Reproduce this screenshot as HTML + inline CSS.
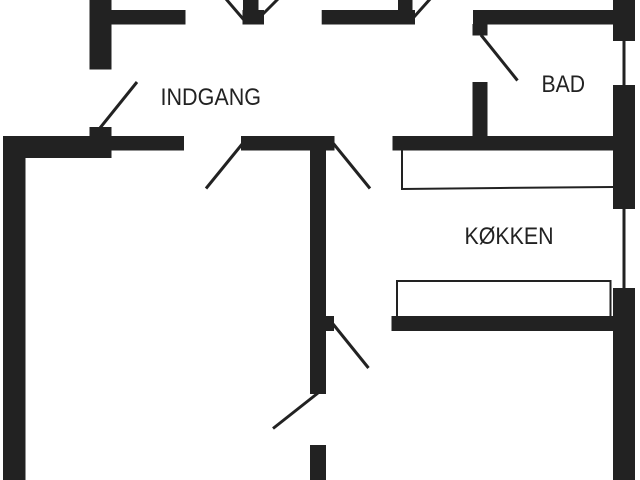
<!DOCTYPE html>
<html>
<head>
<meta charset="utf-8">
<style>
html,body{margin:0;padding:0;background:#fff;width:640px;height:480px;overflow:hidden}
svg{display:block}
text{font-family:"Liberation Sans",sans-serif;fill:#222;font-size:24px}
</style>
</head>
<body>
<svg width="640" height="480" viewBox="0 0 640 480" xmlns="http://www.w3.org/2000/svg">
<rect width="640" height="480" fill="#fff"/>
<g fill="#222">
  <!-- top left -->
  <rect x="89.5" y="0" width="22" height="69.5"/>
  <rect x="111" y="10" width="74.5" height="14.5"/>
  <!-- top centre -->
  <rect x="243" y="0" width="15.5" height="11"/>
  <rect x="242.5" y="10" width="21.5" height="14.5"/>
  <!-- top mid -->
  <rect x="321.7" y="10" width="93.3" height="14.5"/>
  <rect x="398" y="0" width="14.5" height="11"/>
  <!-- bad -->
  <rect x="473" y="10" width="141" height="14.5"/>
  <rect x="472.5" y="24" width="15" height="11.5"/>
  <rect x="472.5" y="82" width="15" height="55"/>
  <rect x="392.5" y="136" width="221" height="14.5"/>
  <!-- right wall -->
  <rect x="613" y="0" width="22" height="41"/>
  <rect x="622.5" y="41" width="3" height="45"/>
  <rect x="613" y="85" width="22" height="124"/>
  <rect x="622.5" y="208" width="3" height="81"/>
  <rect x="613" y="288" width="22" height="192"/>
  <!-- left room -->
  <rect x="3" y="136" width="181" height="14.5"/>
  <rect x="3" y="136" width="108" height="22"/>
  <rect x="3" y="136" width="22.5" height="344"/>
  <rect x="89.5" y="127" width="22" height="31"/>
  <!-- centre wall -->
  <rect x="241" y="136" width="93.5" height="14.5"/>
  <rect x="310" y="136" width="16" height="258"/>
  <rect x="326" y="316" width="8" height="15"/>
  <rect x="310" y="445" width="16" height="35"/>
  <!-- kitchen lower wall -->
  <rect x="391.5" y="316" width="222" height="15"/>
</g>
<g stroke="#222" fill="none" stroke-width="3">
  <line x1="226" y1="-1" x2="244" y2="20"/>
  <line x1="278" y1="-1" x2="262" y2="15"/>
  <line x1="431" y1="-2" x2="414" y2="17"/>
  <line x1="137" y1="82" x2="100" y2="128"/>
  <line x1="206" y1="188.5" x2="243" y2="143"/>
  <line x1="333" y1="143" x2="370" y2="188.5"/>
  <line x1="481" y1="35" x2="517.5" y2="80.5"/>
  <line x1="333" y1="324" x2="368.5" y2="368"/>
  <line x1="318" y1="393" x2="273" y2="428.5"/>
</g>
<g stroke="#222" fill="none" stroke-width="2">
  <polyline points="402,150 402,189 500,188 613,187"/>
  <polyline points="397,316 397,281 610.5,281 610.5,316"/>
</g>
<text x="160.5" y="105" textLength="100.5" lengthAdjust="spacingAndGlyphs">INDGANG</text>
<text x="541.5" y="92" textLength="43.5" lengthAdjust="spacingAndGlyphs">BAD</text>
<text x="464.5" y="244" textLength="89" lengthAdjust="spacingAndGlyphs">KØKKEN</text>
</svg>
</body>
</html>
